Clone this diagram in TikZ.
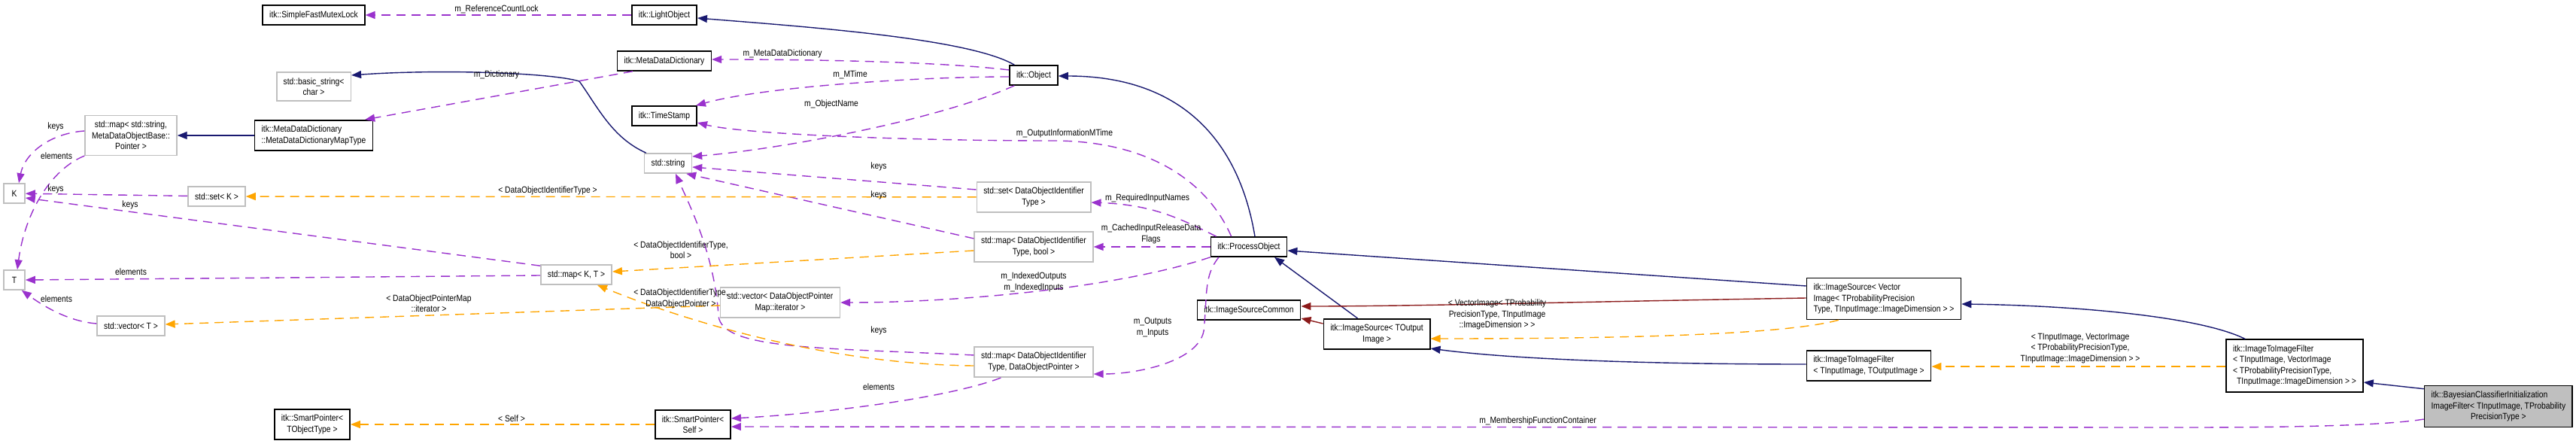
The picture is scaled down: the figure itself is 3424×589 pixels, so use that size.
\documentclass[tikz,border=0pt]{standalone}
\usepackage{fontspec}
\setmainfont[FakeStretch=0.86]{Liberation Sans}
\usepackage{tikz}
\usetikzlibrary{arrows.meta,calc}
\definecolor{inhblue}{HTML}{191970}
\definecolor{protred}{HTML}{8B1A1A}
\definecolor{usepurple}{HTML}{9A32CD}
\definecolor{tplorange}{HTML}{FFA500}
\definecolor{undoc}{HTML}{BFBFBF}
\definecolor{curfill}{HTML}{BFBFBF}

\begin{document}
\begin{tikzpicture}[
  x=1pt,y=-1pt,
  font=\fontsize{12}{14.5}\selectfont,
  cls/.style={draw=black,line width=1.6pt,fill=white,inner xsep=9pt,inner ysep=7.4pt,minimum height=26pt,minimum width=28pt,align=center},
  ext/.style={cls,draw=undoc},
  cur/.style={cls,fill=curfill},
  lbl/.style={inner sep=0pt,align=center},
  tip/.style={-{Triangle[length=13pt,width=10pt]},line width=1.4pt},
  inh/.style={tip,inhblue},
  prot/.style={tip,protred},
  use/.style={tip,usepurple,dash pattern=on 12pt off 8pt},
  tpl/.style={tip,tplorange,dash pattern=on 12pt off 8pt}
]
\useasboundingbox (0,0) rectangle (3424,589);

\node[cls] (SFML) at (417,20) {itk::SimpleFastMutexLock};
\node[cls] (LightObj) at (883,20) {itk::LightObject};
\node[ext] (basicStr) at (417,115) {std::basic\_string<\\char >};
\node[cls] (MDD) at (883,81) {itk::MetaDataDictionary};
\node[cls] (Object) at (1374,100) {itk::Object};
\node[ext] (mapStr) at (174,180) {std::map< std::string,\\MetaDataObjectBase::\\Pointer >};
\node[cls,align=left] (MDDMap) at (417,180) {itk::MetaDataDictionary\\::MetaDataDictionaryMapType};
\node[cls] (TimeStamp) at (883,154) {itk::TimeStamp};
\node[ext] (stdString) at (888,217) {std::string};
\node[ext] (K) at (19,257) {K};
\node[ext] (setK) at (288,261) {std::set< K >};
\node[ext] (setDOI) at (1374,262) {std::set< DataObjectIdentifier\\Type >};
\node[ext] (T) at (19,372) {T};
\node[ext] (mapKT) at (766,365) {std::map< K, T >};
\node[ext] (mapBool) at (1374,328) {std::map< DataObjectIdentifier\\Type, bool >};
\node[cls] (PO) at (1660,328) {itk::ProcessObject};
\node[ext] (vecT) at (174,433) {std::vector< T >};
\node[ext] (vecIter) at (1037,402) {std::vector< DataObjectPointer\\Map::iterator >};
\node[cls] (ISC) at (1660,412) {itk::ImageSourceCommon};
\node[cls] (ISout) at (1830,444) {itk::ImageSource< TOutput\\Image >};
\node[cls,align=left] (ISvec) at (2504,397) {itk::ImageSource< Vector\\Image< TProbabilityPrecision\\Type, TInputImage::ImageDimension > >};
\node[ext] (mapPtr) at (1374,481) {std::map< DataObjectIdentifier\\Type, DataObjectPointer >};
\node[cls,align=left] (ITIF1) at (2484,486) {itk::ImageToImageFilter\\< TInputImage, TOutputImage >};
\node[cls,align=left] (ITIF2) at (3050,486) {itk::ImageToImageFilter\\< TInputImage, VectorImage\\< TProbabilityPrecisionType,\\\hspace*{5pt}TInputImage::ImageDimension > >};
\node[cur,align=left,anchor=east] (Bayes) at (3420,540) {itk::BayesianClassifierInitialization\\ImageFilter< TInputImage, TProbability\\\hspace*{\fill}PrecisionType >\hspace*{\fill}};
\node[cls] (SPTOT) at (415,564) {itk::SmartPointer<\\TObjectType >};
\node[cls] (SPSelf) at (921,564) {itk::SmartPointer<\\Self >};

\draw[inh] ($(Object.north west)+(7,0)$) .. controls +(-60,-35) and +(150,12) .. ($(LightObj.east)+(0,4)$);
\draw[inh] ($(PO.north)+(8,0)$) .. controls +(-20,-120) and +(170,0) .. ($(Object.east)+(0,1)$);
\draw[inh] (MDDMap) -- (mapStr);
\draw[inh] ($(stdString.north west)+(3,0)$) .. controls +(-45,-20) and +(25,35) .. (770,108) .. controls +(-40,-12) and +(110,-8) .. ($(basicStr.east)+(0,-15)$);
\draw[inh] ($(ISout.north west)+(46,0)$) -- ($(PO.south)+(34,0)$);
\draw[inh] ($(ISvec.west)+(0,-17)$) -- ($(PO.east)+(0,5)$);
\draw[inh] ($(ITIF1.west)+(0,-2)$) .. controls +(-250,0) and +(90,12) .. ($(ISout.south east)+(0,-2)$);
\draw[inh] ($(ITIF2.north west)+(26,0)$) .. controls +(-60,-30) and +(150,2) .. ($(ISvec.east)+(0,7)$);
\draw[inh] ($(Bayes.north west)+(0,5)$) -- ($(ITIF2.east)+(0,22)$);
\draw[prot] ($(ISout.west)+(0,-14)$) -- ($(ISC.east)+(0,11)$);
\draw[prot] ($(ISvec.west)+(0,-1)$) .. controls +(-300,5) and +(150,0) .. ($(ISC.east)+(0,-5)$);

\draw[use] (LightObj) -- (SFML);
\draw[use] ($(Object.west)+(0,-7)$) .. controls +(-100,-12) and +(110,0) .. ($(MDD.east)+(0,-2)$);
\draw[use] ($(Object.west)+(0,2)$) .. controls +(-120,0) and +(90,-25) .. ($(TimeStamp.north east)+(-2,0)$);
\draw[use] ($(Object.south west)+(7,0)$) .. controls +(-100,45) and +(120,-10) .. ($(stdString.east)+(0,-9)$);
\draw[use] ($(MDD.south west)+(21,0)$) -- ($(MDDMap.north east)+(-11,0)$);
\draw[use] ($(mapStr.west)+(0,-6)$) .. controls +(-45,3) and +(8,-40) .. ($(K.north)+(6,0)$);
\draw[use] (mapStr.south west) .. controls +(-45,18) and +(10,-75) .. ($(T.north)+(4,0)$);
\draw[use] (setK) -- (K);
\draw[use] ($(mapKT.north west)+(0,2)$) -- ($(K.east)+(0,6)$);
\draw[use] ($(mapKT.west)+(0,1)$) -- (T.east);
\draw[use] ($(vecT.west)+(0,-3)$) .. controls +(-40,-3) and +(25,18) .. ($(T.south east)+(-5,0)$);
\draw[use] ($(PO.north west)+(28,0)$) .. controls +(-30,-70) and +(130,0) .. (1400,187) .. controls +(-200,0) and +(60,15) .. ($(TimeStamp.east)+(0,9)$);
\draw[use] ($(PO.north west)+(8,0)$) .. controls +(-50,-25) and +(80,3) .. ($(setDOI.east)+(0,7)$);
\draw[use] (PO) -- (mapBool);
\draw[use] (PO.south west) .. controls +(-120,40) and +(160,0) .. (vecIter.east);
\draw[use] ($(PO.south)+(-40,0)$) .. controls +(-20,25) and +(5,-50) .. (1600,440) .. controls +(-8,40) and +(60,0) .. ($(mapPtr.east)+(0,16)$);
\draw[use] ($(setDOI.west)+(0,-10)$) -- ($(stdString.east)+(0,5)$);
\draw[use] ($(mapBool.north west)+(0,10)$) -- ($(stdString.south east)+(-8,0)$);
\draw[use] ($(mapPtr.north west)+(0,12)$) .. controls +(-200,-10) and +(5,45) .. (955,420) .. controls +(-5,-80) and +(20,45) .. ($(stdString.south)+(10,0)$);
\draw[use] ($(mapPtr.south west)+(36,0)$) .. controls +(-80,30) and +(100,-5) .. ($(SPSelf.east)+(0,-8)$);
\draw[use] ($(Bayes.west)+(0,17)$) .. controls +(-60,10) and +(100,0) .. (2900,568) -- ($(SPSelf.east)+(0,3)$);

\draw[tpl] (setDOI) -- (setK);
\draw[tpl] ($(mapBool.west)+(0,5)$) -- ($(mapKT.east)+(0,-4)$);
\draw[tpl] ($(mapPtr.west)+(0,5)$) .. controls +(-200,-2) and +(110,45) .. ($(mapKT.south east)+(-20,0)$);
\draw[tpl] ($(vecIter.west)+(0,4)$) -- ($(vecT.east)+(0,-2)$);
\draw[tpl] ($(ISvec.south west)+(43,0)$) .. controls +(-80,22) and +(200,0) .. ($(ISout.east)+(0,6)$);
\draw[tpl] ($(ITIF2.west)+(0,1)$) -- ($(ITIF1.east)+(0,1)$);
\draw[tpl] (SPSelf) -- (SPTOT);

\node[lbl] (lRef) at (660,12) {m\_ReferenceCountLock};
\node[lbl] (lMDD) at (1040,71) {m\_MetaDataDictionary};
\node[lbl] (lDict) at (660,99) {m\_Dictionary};
\node[lbl] (lMTime) at (1130,99) {m\_MTime};
\node[lbl] (lName) at (1105,138) {m\_ObjectName};
\node[lbl] (lOIM) at (1415,177) {m\_OutputInformationMTime};
\node[lbl] (lKeysA) at (74,168) {keys};
\node[lbl] (lElemA) at (75,207) {elements};
\node[lbl] (lKeysB) at (74,251) {keys};
\node[lbl] (lKeysC) at (173,272) {keys};
\node[lbl] (lElemB) at (174,361) {elements};
\node[lbl] (lElemC) at (75,397) {elements};
\node[lbl] (lDOIT) at (728,253) {< DataObjectIdentifierType >};
\node[lbl] (lKeysD) at (1168,221) {keys};
\node[lbl] (lKeysE) at (1168,259) {keys};
\node[lbl] (lReq) at (1525,263) {m\_RequiredInputNames};
\node[lbl] (lCache) at (1530,311) {m\_CachedInputReleaseData\\Flags};
\node[lbl] (lBool) at (905,332) {< DataObjectIdentifierType,\\bool >};
\node[lbl] (lIdx) at (1374,375) {m\_IndexedOutputs\\m\_IndexedInputs};
\node[lbl] (lPtr) at (905,397) {< DataObjectIdentifierType,\\DataObjectPointer >};
\node[lbl] (lIter) at (570,403) {< DataObjectPointerMap\\::iterator >};
\node[lbl] (lKeysF) at (1168,439) {keys};
\node[lbl] (lOut) at (1532,435) {m\_Outputs\\m\_Inputs};
\node[lbl] (lElemD) at (1168,514) {elements};
\node[lbl] (lSelf) at (680,556) {< Self >};
\node[lbl] (lMem) at (2044,559) {m\_MembershipFunctionContainer};
\node[lbl] (lVec) at (1990,418) {< VectorImage< TProbability\\PrecisionType, TInputImage\\::ImageDimension > >};
\node[lbl] (lTwo) at (2765,463) {< TInputImage, VectorImage\\< TProbabilityPrecisionType,\\TInputImage::ImageDimension > >};
\end{tikzpicture}
\end{document}
